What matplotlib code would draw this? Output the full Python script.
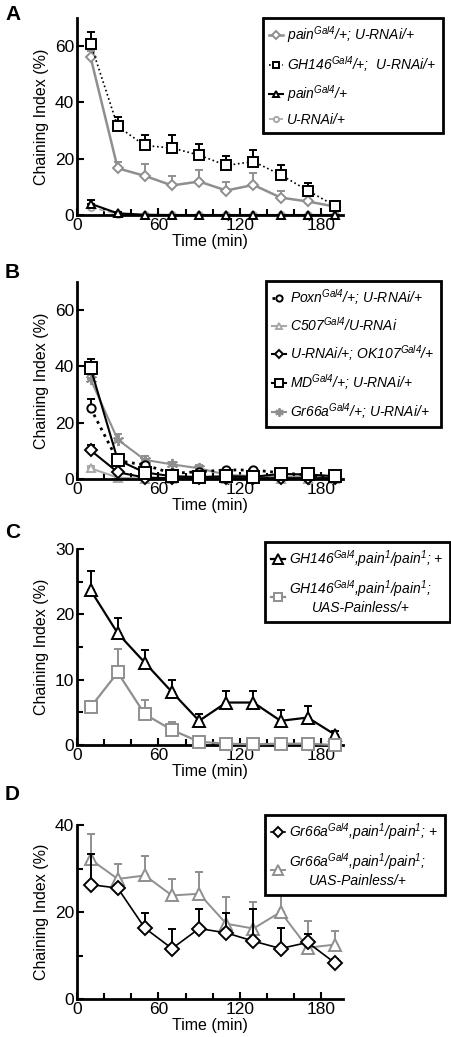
import matplotlib
matplotlib.use('Agg')
import matplotlib.pyplot as plt

plt.rcParams['font.family'] = ['Liberation Sans', 'DejaVu Sans']
plt.rcParams['mathtext.fontset'] = 'custom'
plt.rcParams['mathtext.it'] = 'Liberation Sans:italic'
plt.rcParams['mathtext.rm'] = 'Liberation Sans:italic'

time = [10, 30, 50, 70, 90, 110, 130, 150, 170, 190]

# panel A
a_pain_rnai = [56.1, 16.6, 13.9, 10.5, 11.9, 8.7, 10.7, 6.2, 4.8, 3.0]
a_pain_rnai_err = [2.1, 2.4, 4.2, 3.2, 4.2, 3.2, 4.2, 2.5, 2.0, 0.5]
a_gh146 = [60.9, 31.5, 24.7, 23.8, 21.3, 17.6, 19.0, 14.3, 8.7, 3.3]
a_gh146_err = [4.2, 3.5, 3.8, 4.5, 3.8, 3.2, 4.2, 3.3, 2.5, 0.8]
a_pain = [4.0, 0.6, 0.1, 0, 0, 0, 0, 0, 0, 0]
a_pain_err = [1.2, 0.3, 0, 0, 0, 0, 0, 0, 0, 0]
a_rnai = [2.8, 0.3, 0, 0, 0, 0, 0, 0, 0, 0]
a_rnai_err = [0.6, 0, 0, 0, 0, 0, 0, 0, 0, 0]
a_labels = ['pain$^{Gal4}$/+; U-RNAi/+', 'GH146$^{Gal4}$/+;  U-RNAi/+',
            'pain$^{Gal4}$/+', 'U-RNAi/+']

# panel B
b_poxn = [25.2, 6.5, 5.0, 2.0, 2.6, 3.2, 3.2, 2.2, 1.4, 0.6]
b_poxn_err = [3.3, 0.5, 0.6, 0.4, 0.4, 0.4, 0.4, 0.3, 0.3, 0.2]
b_c507 = [3.8, 0.5, 0.1, 0, 0, 0, 0, 0, 0, 0]
b_c507_err = [0.8, 0, 0, 0, 0, 0, 0, 0, 0, 0]
b_ok107 = [10.2, 2.4, 0.5, 0.3, 0.3, 0.3, 0.3, 0.3, 0.3, 0.3]
b_ok107_err = [1.8, 0.4, 0, 0, 0, 0, 0, 0, 0, 0]
b_md = [39.5, 6.8, 2.3, 1.0, 0.7, 1.0, 0.8, 1.8, 1.6, 1.0]
b_md_err = [3.0, 0.5, 0.4, 0.3, 0.3, 0.3, 0.3, 0.4, 0.3, 0.3]
b_gr66a = [35.5, 14.0, 6.8, 5.2, 3.8, 1.5, 1.0, 0.8, 0.8, 0.5]
b_gr66a_err = [1.5, 2.0, 1.2, 1.0, 1.2, 0.4, 0.3, 0.3, 0.3, 0.2]
b_labels = ['Poxn$^{Gal4}$/+; U-RNAi/+', 'C507$^{Gal4}$/U-RNAi',
            'U-RNAi/+; OK107$^{Gal4}$/+', 'MD$^{Gal4}$/+; U-RNAi/+',
            'Gr66a$^{Gal4}$/+; U-RNAi/+']

# panel C
c_mut = [23.7, 17.1, 12.6, 8.1, 3.7, 6.5, 6.5, 3.7, 4.2, 1.6]
c_mut_err = [2.9, 2.4, 2.0, 1.9, 1.1, 1.8, 1.8, 1.6, 1.7, 0.5]
c_rescue = [5.8, 11.1, 4.7, 2.3, 0.5, 0.2, 0.1, 0.2, 0.2, 0.0]
c_rescue_err = [0.9, 3.6, 2.2, 1.2, 0.2, 0, 0, 0, 0, 0]
c_labels = ['GH146$^{Gal4}$,pain$^{1}$/pain$^{1}$; +',
            'GH146$^{Gal4}$,pain$^{1}$/pain$^{1}$;\nUAS-Painless/+']

# panel D
d_mut = [26.3, 25.5, 16.3, 11.6, 16.2, 15.2, 13.3, 11.6, 13.0, 8.3]
d_mut_err = [7.1, 0.5, 3.5, 4.6, 4.4, 4.6, 7.5, 4.8, 2.0, 0.8]
d_rescue = [32.1, 27.6, 28.4, 23.8, 24.2, 17.3, 16.2, 20.0, 11.8, 12.5]
d_rescue_err = [5.9, 3.4, 4.4, 3.9, 5.0, 6.2, 6.1, 5.0, 6.1, 3.1]
d_labels = ['Gr66a$^{Gal4}$,pain$^{1}$/pain$^{1}$; +',
            'Gr66a$^{Gal4}$,pain$^{1}$/pain$^{1}$;\nUAS-Painless/+']

GRAY = '#8f8f8f'
LIGHT = '#a8a8a8'

W, H = 452, 1037
fig = plt.figure(figsize=(W / 100, H / 100), dpi=100)


def make_axes(top, bottom, ymax, ystep):
    ax = fig.add_axes([77 / W, 1 - bottom / H, 266 / W, (bottom - top) / H])
    ax.set_xlim(0, 196)
    ax.set_ylim(0, ymax)
    for s in ['top', 'right']:
        ax.spines[s].set_visible(False)
    for s in ['left', 'bottom']:
        ax.spines[s].set_linewidth(2)
    ax.set_xticks([0, 60, 120, 180])
    ax.set_xticks(range(0, 200, 20), minor=True)
    ax.set_yticks(range(0, ymax + 1, ystep))
    ax.tick_params(direction='in', length=5, width=1.5, labelsize=12.5, pad=2)
    ax.tick_params(which='minor', direction='in', length=4, width=1.5)
    ax.set_ylabel('Chaining Index (%)', fontsize=11.5, labelpad=4)
    ax.set_xlabel('Time (min)', fontsize=11.5, labelpad=1)
    return ax


def series(ax, y, err, color, ls, lw, marker, ms, label, z=3):
    ax.errorbar(time, y, yerr=[[0] * len(err), err], fmt='none', ecolor=color,
                elinewidth=1.4, capsize=3, capthick=1.4, zorder=z, clip_on=False)
    line, = ax.plot(time, y, color=color, ls=ls, lw=lw, marker=marker, ms=ms,
                    mfc='white', mec=color, mew=1.4, label=label, zorder=z + 0.5,
                    clip_on=False)
    return line


def make_legend(ax, lines, x, y):
    leg = ax.legend(lines, [l.get_label() for l in lines], loc='upper left',
                    bbox_to_anchor=(x / W, 1 - y / H),
                    bbox_transform=fig.transFigure, fancybox=False,
                    edgecolor='black', framealpha=1, handlelength=1.0,
                    handletextpad=0.3, borderpad=0.45, labelspacing=0.65,
                    borderaxespad=0, markerscale=0.75,
                    prop={'style': 'italic', 'size': 10})
    leg.get_frame().set_linewidth(2)
    for t in leg.get_texts():
        t.set_multialignment('center')
    return leg


# A
ax = make_axes(18, 215, 70, 20)
l1 = series(ax, a_pain_rnai, a_pain_rnai_err, GRAY, '-', 1.8, 'D', 5, a_labels[0])
l2 = series(ax, a_gh146, a_gh146_err, 'black', ':', 1.2, 's', 6.5, a_labels[1])
l3 = series(ax, a_pain, a_pain_err, 'black', '-', 1.5, '^', 6, a_labels[2])
l4 = series(ax, a_rnai, a_rnai_err, LIGHT, '--', 1.2, 'o', 5, a_labels[3], z=2)
make_legend(ax, [l1, l2, l3, l4], 263, 18)

# B
ax = make_axes(282, 479, 70, 20)
l1 = series(ax, b_poxn, b_poxn_err, 'black', ':', 2, 'o', 6, b_labels[0])
l2 = series(ax, b_c507, b_c507_err, LIGHT, '-', 1.5, '^', 6, b_labels[1], z=2)
l3 = series(ax, b_ok107, b_ok107_err, 'black', '-', 1.5, 'D', 6, b_labels[2])
l4 = series(ax, b_md, b_md_err, 'black', '-', 1.5, 's', 8, b_labels[3])
l5 = series(ax, b_gr66a, b_gr66a_err, GRAY, '-', 1.5, (6, 2, 0), 8, b_labels[4], z=2)
make_legend(ax, [l1, l2, l3, l4, l5], 266, 281)

# C
ax = make_axes(549, 745, 30, 10)
ax.set_yticks(range(0, 31, 5), minor=True)
ax.tick_params(axis='y', which='minor', direction='in', length=4, width=1.5)
l1 = series(ax, c_mut, c_mut_err, 'black', '-', 1.6, '^', 9, c_labels[0])
l2 = series(ax, c_rescue, c_rescue_err, GRAY, '-', 1.6, 's', 8, c_labels[1])
make_legend(ax, [l1, l2], 265, 542)

# D
ax = make_axes(825, 999, 40, 20)
ax.set_yticks(range(0, 41, 10), minor=True)
ax.tick_params(axis='y', which='minor', direction='in', length=4, width=1.5)
l2 = series(ax, d_rescue, d_rescue_err, GRAY, '-', 1.4, '^', 9, d_labels[1], z=2)
l1 = series(ax, d_mut, d_mut_err, 'black', '-', 1.2, 'D', 7, d_labels[0])
make_legend(ax, [l1, l2], 265, 815)

for letter, y in [('A', 15), ('B', 272), ('C', 533), ('D', 795)]:
    fig.text(5 / W, 1 - y / H, letter, fontsize=15, fontweight='bold',
             va='center', ha='left')

fig.savefig('out.png', dpi=100)
